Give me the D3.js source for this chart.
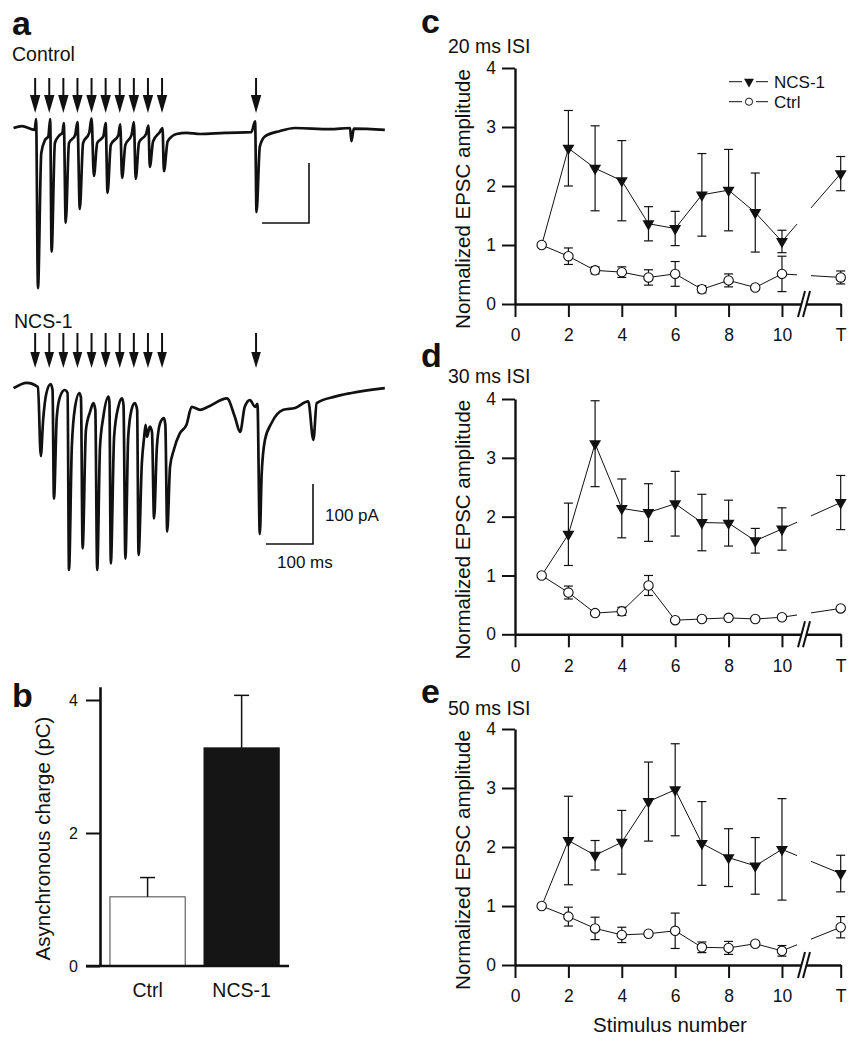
<!DOCTYPE html>
<html><head><meta charset="utf-8">
<script src="https://cdn.jsdelivr.net/npm/d3@7"></script>
<style>
body{margin:0;background:#fff}
svg{display:block}
text{font-family:"Liberation Sans",Arial,Helvetica,sans-serif;fill:#111}
</style>
</head><body>
<svg id="fig" width="857" height="1050"></svg>
<script>
// ---------------- DATA ----------------
// Panel a: stimulus times (ms) and traces as [time ms, current pA]
const stimTimesMs = [45, 75, 105, 135, 165, 195, 225, 255, 285, 315, 515];
const controlTrace = [[-1,0],[17,3],[44,-3],[47,15],[51,-267],[58,-42],[66,-20],[73,-14],[77,15],[80,-206],[87,-25],[97,-12],[103,-8],[106,8],[110,-158],[117,-25],[130,-12],[135,10],[140,-135],[147,-25],[160,-8],[165,16],[170,-80],[177,-25],[190,-14],[195,8],[199,-108],[206,-28],[222,-12],[226,6],[230,-83],[237,-28],[250,-12],[255,10],[259,-85],[266,-24],[281,-10],[286,4],[289,-65],[296,-22],[310,-7],[316,0],[319,-72],[327,-22],[346,-10],[367,-8],[396,-10],[449,-8],[505,-7],[513,11],[516,-140],[523,-31],[534,-14],[566,-5],[598,0],[672,-2],[715,0],[718,-22],[723,-1],[789,-3]];
const ncsTrace = [[-1,-2],[27,7],[51,0],[57,-115],[62,-55],[69,-10],[78,5],[82,-5],[85,-186],[91,-50],[98,-16],[108,-5],[114,-10],[117,-305],[123,-100],[130,-33],[139,-10],[142.5,-18],[146,-269],[153,-72],[162,-41],[169,-27],[173,-38],[177,-305],[183,-100],[190,-50],[201,-16],[203,-25],[206,-294],[213,-83],[222,-33],[230,-19],[233,-30],[237,-286],[243,-83],[250,-38],[257,-27],[262,-38],[265,-280],[272,-127],[277,-83],[280,-63],[283,-83],[289,-66],[293.6,-75],[298,-219],[304,-100],[311,-60],[319,-52],[322,-63],[326,-241],[332,-133],[340,-105],[353,-77],[367,-63],[378,-33],[396,-38],[413,-33],[453,-19],[470,-50],[481,-75],[491,-33],[502,-22],[513,-33],[518,-28],[523,-245],[527,-144],[534,-88],[548,-60],[573,-38],[598,-35],[626,-24],[637,-88],[644,-27],[683,-16],[718,-10],[789,-2]];

// Panel b
const chargeCategories = ["Ctrl", "NCS-1"];
const chargeValues = [1.04, 3.28];
const chargeErrors = [0.29, 0.79];
const chargeTicks = [0, 2, 4];

// Panels c-e
const stimulusNumbers = [1, 2, 3, 4, 5, 6, 7, 8, 9, 10, "T"];
const xTickLabels = [0, 2, 4, 6, 8, 10, "T"];
const yTickValues = [0, 1, 2, 3, 4];

const isi20Ncs    = [1.00, 2.64, 2.30, 2.09, 1.36, 1.28, 1.85, 1.93, 1.55, 1.06, 2.21];
const isi20NcsErr = [0, 0.64, 0.72, 0.68, 0.29, 0.29, 0.70, 0.69, 0.67, 0.19, 0.29];
const isi20Ctrl    = [1.00, 0.81, 0.57, 0.54, 0.45, 0.51, 0.25, 0.40, 0.28, 0.51, 0.45];
const isi20CtrlErr = [0, 0.14, 0.06, 0.09, 0.13, 0.21, 0.06, 0.11, 0.03, 0.30, 0.11];

const isi30Ncs    = [1.00, 1.70, 3.24, 2.14, 2.07, 2.22, 1.90, 1.89, 1.59, 1.79, 2.24];
const isi30NcsErr = [0, 0.53, 0.73, 0.50, 0.49, 0.55, 0.48, 0.39, 0.21, 0.36, 0.46];
const isi30Ctrl    = [1.00, 0.71, 0.36, 0.39, 0.83, 0.24, 0.26, 0.28, 0.26, 0.29, 0.44];
const isi30CtrlErr = [0, 0.11, 0.03, 0.07, 0.17, 0.03, 0.03, 0.03, 0.03, 0.03, 0.03];

const isi50Ncs    = [1.00, 2.11, 1.86, 2.08, 2.77, 2.97, 2.06, 1.82, 1.68, 1.96, 1.55];
const isi50NcsErr = [0, 0.75, 0.25, 0.54, 0.67, 0.78, 0.71, 0.49, 0.48, 0.86, 0.31];
const isi50Ctrl    = [1.00, 0.82, 0.62, 0.51, 0.53, 0.58, 0.30, 0.29, 0.36, 0.24, 0.64];
const isi50CtrlErr = [0, 0.16, 0.19, 0.13, 0.03, 0.30, 0.09, 0.11, 0.03, 0.09, 0.18];

// ---------------- DRAWING ----------------
const svg = d3.select("#fig");
const INK = "#111";
const FONT = '"Liberation Sans",Arial,Helvetica,sans-serif';

function panelLetter(ch, x, y) {
  svg.append("text").attr("x", x).attr("y", y).text(ch)
    .style("font-size", "34px").style("font-weight", "bold");
}
function label(t, x, y, size, anchor) {
  return svg.append("text").attr("x", x).attr("y", y).text(t)
    .style("font-size", size + "px").attr("text-anchor", anchor || "start");
}

// ----- Panel a -----
panelLetter("a", 12, 35);
label("Control", 12, 61, 19.5);
label("NCS-1", 14, 328, 19.5);

const tScale = d3.scaleLinear().domain([0, 100]).range([14, 61]); // 100 ms = 47 px

function drawTraceBlock(trace, baseY, arrowTop, headTop, headBot, headHalf) {
  const iScale = d3.scaleLinear().domain([0, 100]).range([baseY, baseY - 60]); // 100 pA = 60 px
  const line = d3.line().x(d => tScale(d[0])).y(d => iScale(d[1])).curve(d3.curveMonotoneX);
  svg.append("path").datum(trace).attr("d", line)
    .attr("fill", "none").attr("stroke", INK).attr("stroke-width", 2.7)
    .attr("stroke-linejoin", "round");
  const g = svg.append("g");
  stimTimesMs.forEach(t => {
    const x = tScale(t);
    g.append("line").attr("x1", x).attr("x2", x).attr("y1", arrowTop).attr("y2", headTop + 2)
      .attr("stroke", INK).attr("stroke-width", 2);
    g.append("path").attr("d", `M${x - headHalf},${headTop}L${x + headHalf},${headTop}L${x},${headBot}Z`)
      .attr("fill", INK);
  });
}
drawTraceBlock(controlTrace, 128, 78, 95, 113, 5.2);
drawTraceBlock(ncsTrace, 387, 333, 352, 368, 4.8);

// scale bars
function scaleBar(xRight, yBottom) {
  const p = `M${xRight - (tScale(100) - tScale(0))},${yBottom}H${xRight}V${yBottom - 60}`;
  svg.append("path").attr("d", p).attr("fill", "none").attr("stroke", INK).attr("stroke-width", 1.6);
}
scaleBar(309, 223);
scaleBar(313, 544);
label("100 pA", 325, 521, 17);
label("100 ms", 277, 568, 17);

// ----- Panel b -----
panelLetter("b", 12, 707);
const bY = d3.scaleLinear().domain([0, 4.2]).range([966, 966 - 4.2 * 66.5]);
const bX = d3.scaleBand().domain(chargeCategories).range([100, 289.2]).paddingInner(0.2).paddingOuter(0.106);
const bAxis = svg.append("g").attr("transform", "translate(100,0)")
  .call(d3.axisLeft(bY).tickValues(chargeTicks).tickFormat(d3.format("d"))
    .tickSize(14).tickPadding(8).tickSizeOuter(0));
bAxis.select(".domain").attr("stroke", INK).attr("stroke-width", 2.6);
bAxis.selectAll(".tick line").attr("stroke", INK).attr("stroke-width", 2);
bAxis.selectAll(".tick text").style("font-size", "16px").style("font-family", FONT).attr("fill", INK);
chargeCategories.forEach((c, i) => {
  const x0 = bX(c), w = bX.bandwidth(), xc = x0 + w / 2;
  svg.append("rect").attr("x", x0).attr("y", bY(chargeValues[i]))
    .attr("width", w).attr("height", bY(0) - bY(chargeValues[i]))
    .attr("fill", i === 0 ? "#fff" : "#151515").attr("stroke", i === 0 ? "#444" : "#151515")
    .attr("stroke-width", 1);
  const top = bY(chargeValues[i] + chargeErrors[i]);
  svg.append("line").attr("x1", xc).attr("x2", xc).attr("y1", bY(chargeValues[i])).attr("y2", top)
    .attr("stroke", INK).attr("stroke-width", 1.5);
  svg.append("line").attr("x1", xc - 7.5).attr("x2", xc + 7.5).attr("y1", top).attr("y2", top)
    .attr("stroke", INK).attr("stroke-width", 1.5);
  label(c, xc, 997, 19.5, "middle");
});
svg.append("line").attr("x1", 86).attr("x2", 289).attr("y1", bY(0)).attr("y2", bY(0))
  .attr("stroke", INK).attr("stroke-width", 2.6);
label("Asynchronous charge (pC)", 0, 0, 20.5, "middle")
  .attr("transform", "translate(50,838.5) rotate(-90)");

// ----- Panels c, d, e -----
const T_POS = 12.2;
const BREAK_LO = 797, BREAK_HI = 811;
function pos(n) { return n === "T" ? T_POS : n; }

function drawPanel(cfg) {
  const x = d3.scaleLinear().domain([0, T_POS]).range([515, 840.7]);
  const y = d3.scaleLinear().domain([0, 4]).range([cfg.y0, cfg.y4]);
  panelLetter(cfg.letter, 421, cfg.letterY);
  label(cfg.title, 448, cfg.titleY, 19.5);

  const yAx = svg.append("g").attr("transform", "translate(515,0)")
    .call(d3.axisLeft(y).tickValues(yTickValues).tickFormat(d3.format("d"))
      .tickSize(13).tickPadding(6).tickSizeOuter(0));
  const xAx = svg.append("g").attr("transform", `translate(0,${cfg.y0})`)
    .call(d3.axisBottom(x).tickValues(xTickLabels.map(pos))
      .tickFormat(v => v === T_POS ? "T" : String(v))
      .tickSize(13).tickPadding(12).tickSizeOuter(0));
  [yAx, xAx].forEach(a => {
    a.select(".domain").attr("stroke", INK).attr("stroke-width", 2.4);
    a.selectAll(".tick line").attr("stroke", INK).attr("stroke-width", 2);
    a.selectAll(".tick text").style("font-size", "17.5px").style("font-family", FONT).attr("fill", INK);
  });
  // axis break
  svg.append("rect").attr("x", 802).attr("y", cfg.y0 - 3).attr("width", 5).attr("height", 6).attr("fill", "#fff");
  [801.5, 806.5].forEach(bx => {
    svg.append("line").attr("x1", bx - 3.5).attr("y1", cfg.y0 + 13).attr("x2", bx + 3.5).attr("y2", cfg.y0 - 13)
      .attr("stroke", INK).attr("stroke-width", 2);
  });

  label("Normalized EPSC amplitude", 0, 0, 20.5, "middle")
    .attr("transform", `translate(470,${(cfg.y0 + cfg.y4) / 2 + 13}) rotate(-90)`);

  function series(vals, errs, kind) {
    const pts = stimulusNumbers.map((n, i) => ({ x: x(pos(n)), y: y(vals[i]), v: vals[i], e: errs[i] }));
    for (let i = 0; i < pts.length - 1; i++) {
      const a = pts[i], b = pts[i + 1];
      const ln = svg.append("line").attr("x1", a.x).attr("y1", a.y).attr("x2", b.x).attr("y2", b.y)
        .attr("stroke", INK).attr("stroke-width", 1);
      if (stimulusNumbers[i + 1] === "T") {
        const L = Math.hypot(b.x - a.x, b.y - a.y);
        const f1 = (BREAK_LO - a.x) / (b.x - a.x), f2 = (BREAK_HI - a.x) / (b.x - a.x);
        ln.attr("stroke-dasharray", `${f1 * L} ${(f2 - f1) * L} ${L}`);
      }
    }
    pts.forEach(p => {
      if (!p.e) return;
      const t = y(p.v + p.e), bt = y(p.v - p.e);
      svg.append("line").attr("x1", p.x).attr("x2", p.x).attr("y1", t).attr("y2", bt)
        .attr("stroke", INK).attr("stroke-width", 1.2);
      [t, bt].forEach(yy => svg.append("line").attr("x1", p.x - 4.5).attr("x2", p.x + 4.5)
        .attr("y1", yy).attr("y2", yy).attr("stroke", INK).attr("stroke-width", 1.2));
    });
    pts.forEach((p, i) => {
      if (kind === "ncs") {
        if (i === 0) return;
        svg.append("path").attr("d", d3.symbol(d3.symbolTriangle, 62)())
          .attr("transform", `translate(${p.x},${p.y}) rotate(180)`).attr("fill", INK);
      } else {
        svg.append("circle").attr("cx", p.x).attr("cy", p.y).attr("r", 4.7)
          .attr("fill", "#fff").attr("stroke", INK).attr("stroke-width", 1.1);
      }
    });
  }
  series(cfg.ncs, cfg.ncsErr, "ncs");
  series(cfg.ctrl, cfg.ctrlErr, "ctrl");

  if (cfg.legend) {
    const rows = [{ k: "ncs", t: "NCS-1", y: 81.7 }, { k: "ctrl", t: "Ctrl", y: 101.7 }];
    rows.forEach(r => {
      svg.append("line").attr("x1", 729).attr("x2", 768).attr("y1", r.y).attr("y2", r.y)
        .attr("stroke", INK).attr("stroke-width", 1);
      svg.append("rect").attr("x", 742).attr("y", r.y - 5).attr("width", 14).attr("height", 10).attr("fill", "#fff");
      if (r.k === "ncs") {
        svg.append("path").attr("d", d3.symbol(d3.symbolTriangle, 42)())
          .attr("transform", `translate(749,${r.y}) rotate(180)`).attr("fill", INK);
      } else {
        svg.append("circle").attr("cx", 749).attr("cy", r.y).attr("r", 3.6)
          .attr("fill", "#fff").attr("stroke", INK).attr("stroke-width", 1);
      }
      label(r.t, 774, r.y + 6, 17);
    });
  }
  if (cfg.xlabel) label("Stimulus number", 670, 1031.5, 20.5, "middle");
}

drawPanel({ letter: "c", letterY: 33, title: "20 ms ISI", titleY: 53.3, y0: 304, y4: 68,
  ncs: isi20Ncs, ncsErr: isi20NcsErr, ctrl: isi20Ctrl, ctrlErr: isi20CtrlErr, legend: true });
drawPanel({ letter: "d", letterY: 367, title: "30 ms ISI", titleY: 383.3, y0: 634.3, y4: 399,
  ncs: isi30Ncs, ncsErr: isi30NcsErr, ctrl: isi30Ctrl, ctrlErr: isi30CtrlErr });
drawPanel({ letter: "e", letterY: 703, title: "50 ms ISI", titleY: 715, y0: 965, y4: 729,
  ncs: isi50Ncs, ncsErr: isi50NcsErr, ctrl: isi50Ctrl, ctrlErr: isi50CtrlErr, xlabel: true });
</script>
</body></html>
